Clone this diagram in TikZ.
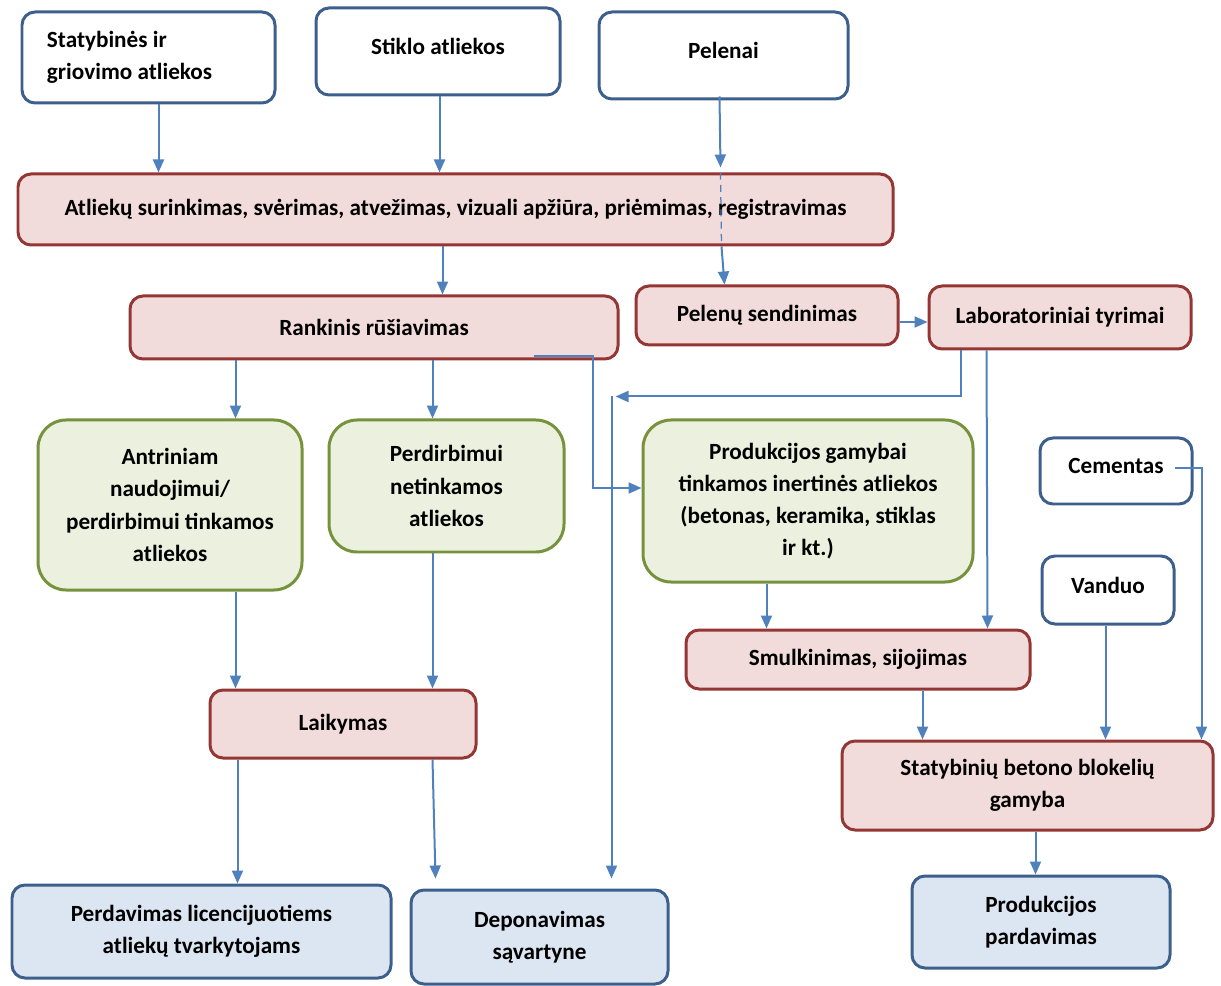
\documentclass[tikz,border=0pt]{standalone}
\usepackage{fontspec}
\setmainfont{Carlito}
\usetikzlibrary{arrows.meta,calc}
\definecolor{bdark}{HTML}{3D5F8C}
\definecolor{bfill}{HTML}{DCE6F2}
\definecolor{rdark}{HTML}{943634}
\definecolor{rfill}{HTML}{F2DCDB}
\definecolor{gdark}{HTML}{76923C}
\definecolor{gfill}{HTML}{EBF1DE}
\definecolor{arrc}{HTML}{4F81BD}
\tikzset{
  base/.style={rectangle, rounded corners=13*0.02cm, line width=0.06cm, align=center,
    font=\fontsize{13.2}{18.3}\selectfont\bfseries, inner sep=0pt},
  bluebox/.style={base, draw=bdark, fill=white},
  bluefill/.style={base, draw=bdark, fill=bfill},
  redbox/.style={base, draw=rdark, fill=rfill},
  greenbox/.style={base, draw=gdark, fill=gfill, rounded corners=28*0.02cm},
  lifted/.style={text depth=10*0.02cm},
  arr/.style={draw=arrc, line width=0.04cm, -{Triangle[length=0.26cm,width=0.22cm]}},
  ln/.style={draw=arrc, line width=0.04cm},
}
\begin{document}
\begin{tikzpicture}[x=0.02cm,y=-0.02cm]
\useasboundingbox (0,0) rectangle (1221,986);
% top sources
\node[bluebox, minimum width=253*0.02cm, minimum height=91*0.02cm, text width=203*0.02cm, inner xsep=25*0.02cm, align=flush left] (sb) at (148.5,57.5) {Statybinės ir\\griovimo atliekos};
\node[bluebox, lifted, minimum width=244*0.02cm, minimum height=87*0.02cm] (st) at (438,51.5) {Stiklo atliekos};
\node[bluebox, lifted, minimum width=249*0.02cm, minimum height=87*0.02cm] (pe) at (723.5,55.5) {Pelenai};
% process
\node[redbox, minimum width=875*0.02cm, minimum height=71*0.02cm] (at) at (455.5,209.5) {Atliekų surinkimas, svėrimas, atvežimas, vizuali apžiūra, priėmimas, registravimas};
\node[redbox, minimum width=488*0.02cm, minimum height=63*0.02cm] (rr) at (374,327.5) {Rankinis rūšiavimas};
\node[redbox, minimum width=262*0.02cm, minimum height=59*0.02cm] (ps) at (767,315.5) {Pelenų sendinimas};
\node[redbox, minimum width=262*0.02cm, minimum height=63*0.02cm] (lt) at (1060,317.5) {Laboratoriniai tyrimai};
% green
\node[greenbox, minimum width=264*0.02cm, minimum height=170*0.02cm] (an) at (170,505) {Antriniam\\naudojimui/\\perdirbimui tinkamos\\atliekos};
\node[greenbox, minimum width=235*0.02cm, minimum height=132*0.02cm] (pn) at (446.5,486) {Perdirbimui\\netinkamos\\atliekos};
\node[greenbox, minimum width=330*0.02cm, minimum height=162*0.02cm] (pg) at (808,501) {Produkcijos gamybai\\tinkamos inertinės atliekos\\(betonas, keramika, stiklas\\ir kt.)};
% inputs
\node[bluebox, lifted, minimum width=152*0.02cm, minimum height=66*0.02cm] (ce) at (1116,471) {Cementas};
\node[bluebox, lifted, minimum width=132*0.02cm, minimum height=68*0.02cm] (va) at (1108,590) {Vanduo};
% lower process
\node[redbox, minimum width=344*0.02cm, minimum height=59*0.02cm] (sm) at (858,659.5) {Smulkinimas, sijojimas};
\node[redbox, minimum width=266*0.02cm, minimum height=68*0.02cm] (la) at (343,724) {Laikymas};
\node[redbox, minimum width=371*0.02cm, minimum height=89*0.02cm] (sg) at (1027.5,785.5) {Statybinių betono blokelių\\gamyba};
% outputs
\node[bluefill, minimum width=379*0.02cm, minimum height=93*0.02cm] (pd) at (201.5,931.5) {Perdavimas licencijuotiems\\atliekų tvarkytojams};
\node[bluefill, minimum width=257*0.02cm, minimum height=94*0.02cm] (de) at (539.5,937) {Deponavimas\\sąvartyne};
\node[bluefill, minimum width=258*0.02cm, minimum height=92*0.02cm] (pp) at (1041,922) {Produkcijos\\pardavimas};
% connectors
\draw[arr] ($(sb.south west)+(138,0)$) -- ($(at.north west)+(142,0)$);
\draw[arr] ($(st.south west)+(125,0)$) -- ($(at.north west)+(423,0)$);
\draw[arr] ($(pe.south west)+(122,-4)$) -- ($(at.north west)+(704,-5)$);
\draw[ln, dashed, dash pattern=on 4pt off 3pt, line width=0.025cm] ($(at.north west)+(704,0)$) -- ($(at.south west)+(705,0)$);
\draw[arr] ($(at.south west)+(705,0)$) -- ($(ps.north west)+(90,0)$);
\draw[arr] ($(at.south west)+(426,0)$) -- ($(rr.north west)+(314,0)$);
\draw[arr] ($(rr.south west)+(107,0)$) -- ($(an.north west)+(199,0)$);
\draw[arr] ($(rr.south west)+(304,0)$) -- ($(pn.north west)+(105,0)$);
\draw[arr] ($(rr.south east)+(-86,-4)$) -- ++(59,0) |- ($(pg.west)+(0,-13)$);
\draw[arr] ($(ps.east)+(0,6.5)$) -- ($(lt.west)+(0,4.5)$);
\coordinate (j) at ($(de.north west)+(202,-492)$);
\draw[arr] ($(lt.south west)+(33,0)$) |- ($(j)+(4,0)$);
\draw[arr] (j) -- ($(de.north west)+(202,-10)$);
\draw[arr] ($(lt.south west)+(59,0)$) -- ($(sm.north west)+(303,0)$);
\draw[arr] ($(pg.south west)+(125,0)$) -- ($(sm.north west)+(82,0)$);
\draw[arr] ($(an.south west)+(199,0)$) -- ($(la.north west)+(27,0)$);
\draw[arr] ($(pn.south west)+(105,0)$) -- ($(la.north west)+(224,0)$);
\draw[arr] ($(la.south west)+(29,0)$) -- ($(pd.north west)+(227,0)$);
\draw[arr] ($(la.south west)+(224,0)$) -- ($(de.north west)+(26,-10)$);
\draw[arr] ($(sm.south west)+(238,0)$) -- ($(sg.north west)+(82,0)$);
\draw[arr] ($(va.south west)+(65,0)$) -- ($(sg.north west)+(265,0)$);
\draw[arr] ($(ce.east)+(-19,-3)$) -| ($(sg.north east)+(-13,0)$);
\draw[arr] ($(sg.south west)+(195,0)$) -- ($(pp.north west)+(125,0)$);
\end{tikzpicture}
\end{document}
